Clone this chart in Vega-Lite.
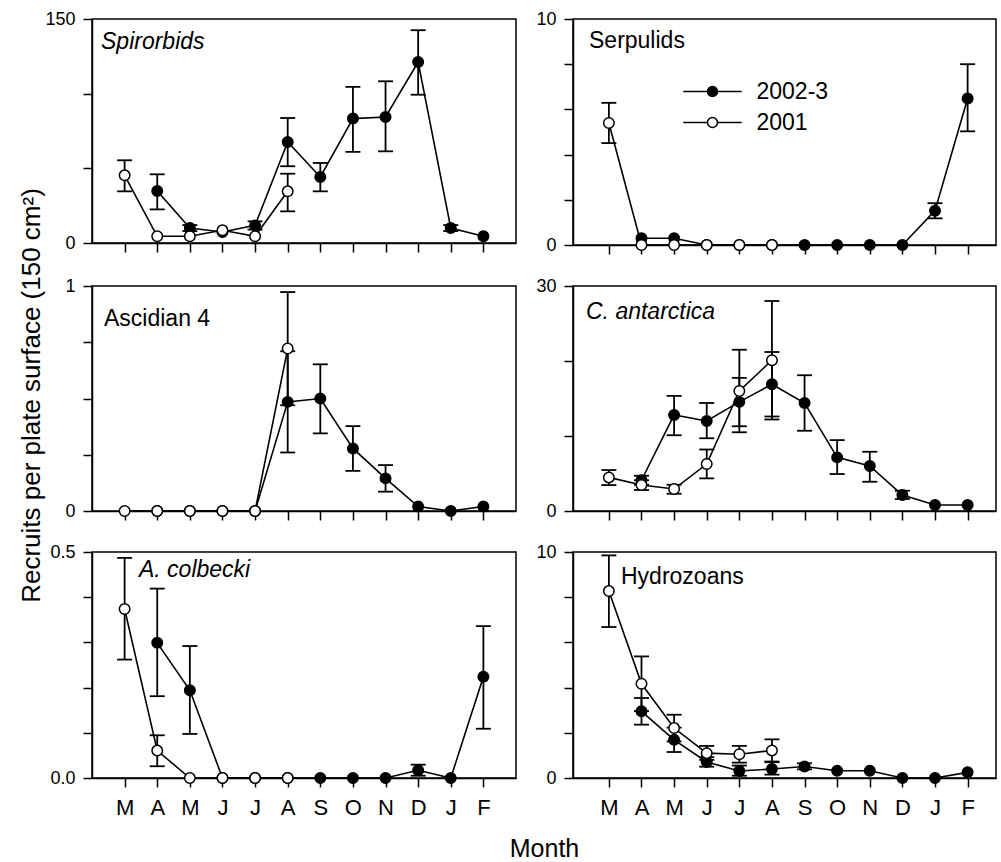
{
"$schema": "https://vega.github.io/schema/vega-lite/v6.json",
"background": "white",
"padding": {"left": 17, "top": 9, "right": 0, "bottom": 0},
"config": {
  "font": "Liberation Sans",
  "view": {"stroke": "black", "strokeWidth": 1.5},
  "axis": {"domainColor": "black", "domainWidth": 1.5, "tickColor": "black", "tickWidth": 1.5, "tickSize": 9, "labelColor": "black", "labelFont": "Liberation Sans", "labelFontSize": 18, "labelPadding": 8, "grid": false, "titleColor": "black", "titleFontWeight": "normal", "titleFont": "Liberation Sans"},
  "title": {"anchor": "start", "frame": "group", "orient": "top", "baseline": "alphabetic", "font": "Liberation Sans", "fontSize": 23, "fontWeight": "normal", "color": "black"}
},
"datasets": {
  "d": [
    {"t":"S","yr":"2002-3","m":2,"v":34.8,"lo":22.5,"hi":46},
    {"t":"S","yr":"2002-3","m":3,"v":10,"lo":8,"hi":12},
    {"t":"S","yr":"2002-3","m":4,"v":7.4},
    {"t":"S","yr":"2002-3","m":5,"v":11.8,"lo":9,"hi":14.5},
    {"t":"S","yr":"2002-3","m":6,"v":67.6,"lo":51.4,"hi":83.7},
    {"t":"S","yr":"2002-3","m":7,"v":44.2,"lo":34.6,"hi":53.6},
    {"t":"S","yr":"2002-3","m":8,"v":83.3,"lo":61,"hi":104.5},
    {"t":"S","yr":"2002-3","m":9,"v":84.4,"lo":61.4,"hi":108.3},
    {"t":"S","yr":"2002-3","m":10,"v":121.2,"lo":99.3,"hi":142.5},
    {"t":"S","yr":"2002-3","m":11,"v":10,"lo":8,"hi":12},
    {"t":"S","yr":"2002-3","m":12,"v":4.5},
    {"t":"S","yr":"2001","m":1,"v":45.3,"lo":34.6,"hi":55.4},
    {"t":"S","yr":"2001","m":2,"v":4.5},
    {"t":"S","yr":"2001","m":3,"v":4.5},
    {"t":"S","yr":"2001","m":4,"v":8.5},
    {"t":"S","yr":"2001","m":5,"v":4.5},
    {"t":"S","yr":"2001","m":6,"v":34.6,"lo":21.2,"hi":46.4},

    {"t":"P","yr":"2002-3","m":2,"v":0.3},
    {"t":"P","yr":"2002-3","m":3,"v":0.3},
    {"t":"P","yr":"2002-3","m":4,"v":0},
    {"t":"P","yr":"2002-3","m":5,"v":0},
    {"t":"P","yr":"2002-3","m":6,"v":0},
    {"t":"P","yr":"2002-3","m":7,"v":0},
    {"t":"P","yr":"2002-3","m":8,"v":0},
    {"t":"P","yr":"2002-3","m":9,"v":0},
    {"t":"P","yr":"2002-3","m":10,"v":0},
    {"t":"P","yr":"2002-3","m":11,"v":1.52,"lo":1.18,"hi":1.85},
    {"t":"P","yr":"2002-3","m":12,"v":6.48,"lo":5.03,"hi":8.0},
    {"t":"P","yr":"2001","m":1,"v":5.4,"lo":4.51,"hi":6.29},
    {"t":"P","yr":"2001","m":2,"v":0},
    {"t":"P","yr":"2001","m":3,"v":0},
    {"t":"P","yr":"2001","m":4,"v":0},
    {"t":"P","yr":"2001","m":5,"v":0},
    {"t":"P","yr":"2001","m":6,"v":0},

    {"t":"A","yr":"2002-3","m":2,"v":0},
    {"t":"A","yr":"2002-3","m":3,"v":0},
    {"t":"A","yr":"2002-3","m":4,"v":0},
    {"t":"A","yr":"2002-3","m":5,"v":0},
    {"t":"A","yr":"2002-3","m":6,"v":0.485,"lo":0.26,"hi":0.71},
    {"t":"A","yr":"2002-3","m":7,"v":0.5,"lo":0.345,"hi":0.652},
    {"t":"A","yr":"2002-3","m":8,"v":0.278,"lo":0.178,"hi":0.377},
    {"t":"A","yr":"2002-3","m":9,"v":0.145,"lo":0.086,"hi":0.204},
    {"t":"A","yr":"2002-3","m":10,"v":0.02},
    {"t":"A","yr":"2002-3","m":11,"v":0},
    {"t":"A","yr":"2002-3","m":12,"v":0.02},
    {"t":"A","yr":"2001","m":1,"v":0},
    {"t":"A","yr":"2001","m":2,"v":0},
    {"t":"A","yr":"2001","m":3,"v":0},
    {"t":"A","yr":"2001","m":4,"v":0},
    {"t":"A","yr":"2001","m":5,"v":0},
    {"t":"A","yr":"2001","m":6,"v":0.722,"lo":0.47,"hi":0.973},

    {"t":"C","yr":"2002-3","m":2,"v":4.1,"lo":3.5,"hi":4.7},
    {"t":"C","yr":"2002-3","m":3,"v":12.8,"lo":10.1,"hi":15.35},
    {"t":"C","yr":"2002-3","m":4,"v":12.0,"lo":9.7,"hi":14.4},
    {"t":"C","yr":"2002-3","m":5,"v":14.55,"lo":11.3,"hi":17.75},
    {"t":"C","yr":"2002-3","m":6,"v":16.9,"lo":12.6,"hi":21.2},
    {"t":"C","yr":"2002-3","m":7,"v":14.4,"lo":10.7,"hi":18.1},
    {"t":"C","yr":"2002-3","m":8,"v":7.15,"lo":4.93,"hi":9.45},
    {"t":"C","yr":"2002-3","m":9,"v":6.0,"lo":3.9,"hi":7.9},
    {"t":"C","yr":"2002-3","m":10,"v":2.13,"lo":1.6,"hi":2.7},
    {"t":"C","yr":"2002-3","m":11,"v":0.8},
    {"t":"C","yr":"2002-3","m":12,"v":0.8},
    {"t":"C","yr":"2001","m":1,"v":4.48,"lo":3.46,"hi":5.46},
    {"t":"C","yr":"2001","m":2,"v":3.46,"lo":2.8,"hi":4.1},
    {"t":"C","yr":"2001","m":3,"v":2.93,"lo":2.3,"hi":3.5},
    {"t":"C","yr":"2001","m":4,"v":6.26,"lo":4.35,"hi":8.2},
    {"t":"C","yr":"2001","m":5,"v":16.0,"lo":10.5,"hi":21.5},
    {"t":"C","yr":"2001","m":6,"v":20.1,"lo":12.2,"hi":28.0},

    {"t":"K","yr":"2002-3","m":2,"v":0.299,"lo":0.181,"hi":0.419},
    {"t":"K","yr":"2002-3","m":3,"v":0.194,"lo":0.0975,"hi":0.292},
    {"t":"K","yr":"2002-3","m":4,"v":0},
    {"t":"K","yr":"2002-3","m":5,"v":0},
    {"t":"K","yr":"2002-3","m":6,"v":0},
    {"t":"K","yr":"2002-3","m":7,"v":0},
    {"t":"K","yr":"2002-3","m":8,"v":0},
    {"t":"K","yr":"2002-3","m":9,"v":0},
    {"t":"K","yr":"2002-3","m":10,"v":0.017,"lo":0.005,"hi":0.0295},
    {"t":"K","yr":"2002-3","m":11,"v":0},
    {"t":"K","yr":"2002-3","m":12,"v":0.224,"lo":0.109,"hi":0.336},
    {"t":"K","yr":"2001","m":1,"v":0.374,"lo":0.262,"hi":0.487},
    {"t":"K","yr":"2001","m":2,"v":0.0606,"lo":0.026,"hi":0.0945},
    {"t":"K","yr":"2001","m":3,"v":0},
    {"t":"K","yr":"2001","m":4,"v":0},
    {"t":"K","yr":"2001","m":5,"v":0},
    {"t":"K","yr":"2001","m":6,"v":0},

    {"t":"H","yr":"2002-3","m":2,"v":2.95,"lo":2.36,"hi":3.54},
    {"t":"H","yr":"2002-3","m":3,"v":1.69,"lo":1.15,"hi":2.23},
    {"t":"H","yr":"2002-3","m":4,"v":0.71,"lo":0.5,"hi":0.92},
    {"t":"H","yr":"2002-3","m":5,"v":0.31,"lo":0.1,"hi":0.55},
    {"t":"H","yr":"2002-3","m":6,"v":0.4,"lo":0.15,"hi":0.7},
    {"t":"H","yr":"2002-3","m":7,"v":0.51,"lo":0.38,"hi":0.65},
    {"t":"H","yr":"2002-3","m":8,"v":0.32},
    {"t":"H","yr":"2002-3","m":9,"v":0.32},
    {"t":"H","yr":"2002-3","m":10,"v":0},
    {"t":"H","yr":"2002-3","m":11,"v":0},
    {"t":"H","yr":"2002-3","m":12,"v":0.25},
    {"t":"H","yr":"2001","m":1,"v":8.27,"lo":6.68,"hi":9.85},
    {"t":"H","yr":"2001","m":2,"v":4.17,"lo":2.96,"hi":5.38},
    {"t":"H","yr":"2001","m":3,"v":2.21,"lo":1.62,"hi":2.8},
    {"t":"H","yr":"2001","m":4,"v":1.1,"lo":0.8,"hi":1.42},
    {"t":"H","yr":"2001","m":5,"v":1.05,"lo":0.68,"hi":1.42},
    {"t":"H","yr":"2001","m":6,"v":1.22,"lo":0.73,"hi":1.71}
  ]
},
"data": {"name": "d"},
"columns": 2,
"bounds": "flush",
"spacing": {"row": 41, "column": 57},
"resolve": {"scale": {"fill": "independent"}, "legend": {"fill": "independent"}},
"concat": [
  {
    "width": 424, "height": 224,
    "title": {"text": "Spirorbids", "fontStyle": "italic", "offset": -44, "dx": 9},
    "transform": [{"filter": "datum.t == 'S'"}],
    "encoding": {"x": {"field": "m", "type": "quantitative", "scale": {"domain": [0, 13], "nice": false, "zero": false}, "axis": {"values": [1,2,3,4,5,6,7,8,9,10,11,12], "labels": false, "title": null}}},
    "layer": [
      {"mark": {"type": "line", "color": "black", "strokeWidth": 1.6}, "encoding": {"y": {"field": "v", "type": "quantitative", "scale": {"domain": [0, 150], "nice": false}, "axis": {"values": [0, 50, 100, 150], "labelExpr": "datum.value == 0 || datum.value == 150 ? datum.label : ''", "title": null}}, "detail": {"field": "yr"}}},
      {"transform": [{"filter": "isValid(datum.lo)"}], "mark": {"type": "rule", "color": "black", "strokeWidth": 1.8}, "encoding": {"y": {"field": "lo", "type": "quantitative", "title": null}, "y2": {"field": "hi"}}},
      {"transform": [{"filter": "isValid(datum.lo)"}], "mark": {"type": "tick", "orient": "horizontal", "color": "black", "size": 15, "thickness": 1.8, "opacity": 1}, "encoding": {"y": {"field": "lo", "type": "quantitative", "title": null}}},
      {"transform": [{"filter": "isValid(datum.hi)"}], "mark": {"type": "tick", "orient": "horizontal", "color": "black", "size": 15, "thickness": 1.8, "opacity": 1}, "encoding": {"y": {"field": "hi", "type": "quantitative", "title": null}}},
      {"mark": {"type": "circle", "size": 110, "stroke": "black", "strokeWidth": 1.5, "opacity": 1}, "encoding": {"y": {"field": "v", "type": "quantitative", "title": null}, "fill": {"field": "yr", "type": "nominal", "scale": {"domain": ["2002-3", "2001"], "range": ["black", "white"]}, "legend": null}}}
    ]
  },
  {
    "width": 423, "height": 226,
    "title": {"text": "Serpulids", "offset": -43, "dx": 16},
    "transform": [{"filter": "datum.t == 'P'"}],
    "encoding": {"x": {"field": "m", "type": "quantitative", "scale": {"domain": [-0.1, 12.87], "nice": false, "zero": false}, "axis": {"values": [1,2,3,4,5,6,7,8,9,10,11,12], "labels": false, "title": null}}},
    "layer": [
      {"mark": {"type": "line", "color": "black", "strokeWidth": 1.6}, "encoding": {"y": {"field": "v", "type": "quantitative", "scale": {"domain": [0, 10], "nice": false}, "axis": {"values": [0, 2, 4, 6, 8, 10], "labelExpr": "datum.value == 0 || datum.value == 10 ? datum.label : ''", "title": null}}, "detail": {"field": "yr"}}},
      {"transform": [{"filter": "isValid(datum.lo)"}], "mark": {"type": "rule", "color": "black", "strokeWidth": 1.8}, "encoding": {"y": {"field": "lo", "type": "quantitative", "title": null}, "y2": {"field": "hi"}}},
      {"transform": [{"filter": "isValid(datum.lo)"}], "mark": {"type": "tick", "orient": "horizontal", "color": "black", "size": 15, "thickness": 1.8, "opacity": 1}, "encoding": {"y": {"field": "lo", "type": "quantitative", "title": null}}},
      {"transform": [{"filter": "isValid(datum.hi)"}], "mark": {"type": "tick", "orient": "horizontal", "color": "black", "size": 15, "thickness": 1.8, "opacity": 1}, "encoding": {"y": {"field": "hi", "type": "quantitative", "title": null}}},
      {"mark": {"type": "circle", "size": 110, "stroke": "black", "strokeWidth": 1.5, "opacity": 1}, "encoding": {"y": {"field": "v", "type": "quantitative", "title": null}, "fill": {"field": "yr", "type": "nominal", "scale": {"domain": ["2002-3", "2001"], "range": ["black", "white"]}, "legend": {"orient": "none", "legendX": 128, "legendY": 61, "title": null, "padding": 0, "symbolType": "M-5.84,0H-1M1,0H5.84M1,0A1,1,0,1,1,-1,0A1,1,0,1,1,1,0Z", "symbolSize": 100, "symbolStrokeColor": "black", "symbolStrokeWidth": 1.5, "symbolOpacity": 1, "labelFont": "Liberation Sans", "labelFontSize": 23, "labelColor": "black", "labelOffset": 32.5, "rowPadding": 7}}}}
    ]
  },
  {
    "width": 424, "height": 225,
    "title": {"text": "Ascidian 4", "offset": -143, "dx": 12},
    "transform": [{"filter": "datum.t == 'A'"}],
    "encoding": {"x": {"field": "m", "type": "quantitative", "scale": {"domain": [0, 13], "nice": false, "zero": false}, "axis": {"values": [1,2,3,4,5,6,7,8,9,10,11,12], "labels": false, "title": null}}},
    "layer": [
      {"mark": {"type": "line", "color": "black", "strokeWidth": 1.6}, "encoding": {"y": {"field": "v", "type": "quantitative", "title": "Recruits per plate surface (150 cm²)", "scale": {"domain": [0, 1], "nice": false}, "axis": {"values": [0, 0.25, 0.5, 0.75, 1], "labelExpr": "datum.value == 0 ? '0' : datum.value == 1 ? '1' : ''", "title": "Recruits per plate surface (150 cm²)", "titleFontSize": 26, "titleAngle": 270, "titleBaseline": "alphabetic", "titleAlign": "center", "titleX": -53, "titleY": 109}}, "detail": {"field": "yr"}}},
      {"transform": [{"filter": "isValid(datum.lo)"}], "mark": {"type": "rule", "color": "black", "strokeWidth": 1.8}, "encoding": {"y": {"field": "lo", "type": "quantitative", "title": "Recruits per plate surface (150 cm²)"}, "y2": {"field": "hi"}}},
      {"transform": [{"filter": "isValid(datum.lo)"}], "mark": {"type": "tick", "orient": "horizontal", "color": "black", "size": 15, "thickness": 1.8, "opacity": 1}, "encoding": {"y": {"field": "lo", "type": "quantitative", "title": "Recruits per plate surface (150 cm²)"}}},
      {"transform": [{"filter": "isValid(datum.hi)"}], "mark": {"type": "tick", "orient": "horizontal", "color": "black", "size": 15, "thickness": 1.8, "opacity": 1}, "encoding": {"y": {"field": "hi", "type": "quantitative", "title": "Recruits per plate surface (150 cm²)"}}},
      {"mark": {"type": "circle", "size": 110, "stroke": "black", "strokeWidth": 1.5, "opacity": 1}, "encoding": {"y": {"field": "v", "type": "quantitative", "title": "Recruits per plate surface (150 cm²)"}, "fill": {"field": "yr", "type": "nominal", "scale": {"domain": ["2002-3", "2001"], "range": ["black", "white"]}, "legend": null}}}
    ]
  },
  {
    "width": 423, "height": 225,
    "title": {"text": "C. antarctica", "fontStyle": "italic", "offset": -47, "dx": 13},
    "transform": [{"filter": "datum.t == 'C'"}],
    "encoding": {"x": {"field": "m", "type": "quantitative", "scale": {"domain": [-0.1, 12.87], "nice": false, "zero": false}, "axis": {"values": [1,2,3,4,5,6,7,8,9,10,11,12], "labels": false, "title": null}}},
    "layer": [
      {"mark": {"type": "line", "color": "black", "strokeWidth": 1.6}, "encoding": {"y": {"field": "v", "type": "quantitative", "scale": {"domain": [0, 30], "nice": false}, "axis": {"values": [0, 10, 20, 30], "labelExpr": "datum.value == 0 || datum.value == 30 ? datum.label : ''", "title": null}}, "detail": {"field": "yr"}}},
      {"transform": [{"filter": "isValid(datum.lo)"}], "mark": {"type": "rule", "color": "black", "strokeWidth": 1.8}, "encoding": {"y": {"field": "lo", "type": "quantitative", "title": null}, "y2": {"field": "hi"}}},
      {"transform": [{"filter": "isValid(datum.lo)"}], "mark": {"type": "tick", "orient": "horizontal", "color": "black", "size": 15, "thickness": 1.8, "opacity": 1}, "encoding": {"y": {"field": "lo", "type": "quantitative", "title": null}}},
      {"transform": [{"filter": "isValid(datum.hi)"}], "mark": {"type": "tick", "orient": "horizontal", "color": "black", "size": 15, "thickness": 1.8, "opacity": 1}, "encoding": {"y": {"field": "hi", "type": "quantitative", "title": null}}},
      {"mark": {"type": "circle", "size": 110, "stroke": "black", "strokeWidth": 1.5, "opacity": 1}, "encoding": {"y": {"field": "v", "type": "quantitative", "title": null}, "fill": {"field": "yr", "type": "nominal", "scale": {"domain": ["2002-3", "2001"], "range": ["black", "white"]}, "legend": null}}}
    ]
  },
  {
    "width": 424, "height": 226,
    "title": {"text": "A. colbecki", "fontStyle": "italic", "offset": -39, "dx": 47},
    "transform": [{"filter": "datum.t == 'K'"}],
    "encoding": {"x": {"field": "m", "type": "quantitative", "scale": {"domain": [0, 13], "nice": false, "zero": false}, "axis": {"values": [1,2,3,4,5,6,7,8,9,10,11,12], "labelExpr": "['','M','A','M','J','J','A','S','O','N','D','J','F'][datum.value]", "labelFontSize": 22, "labelPadding": 10, "title": "Month", "titleFontSize": 25, "titleBaseline": "alphabetic", "titleAlign": "center", "titleX": 452, "titleY": 78}}},
    "layer": [
      {"mark": {"type": "line", "color": "black", "strokeWidth": 1.6}, "encoding": {"y": {"field": "v", "type": "quantitative", "scale": {"domain": [0, 0.5], "nice": false}, "axis": {"values": [0, 0.1, 0.2, 0.3, 0.4, 0.5], "labelExpr": "datum.value == 0 ? '0.0' : datum.value == 0.5 ? '0.5' : ''", "title": null}}, "detail": {"field": "yr"}}},
      {"transform": [{"filter": "isValid(datum.lo)"}], "mark": {"type": "rule", "color": "black", "strokeWidth": 1.8}, "encoding": {"y": {"field": "lo", "type": "quantitative", "title": null}, "y2": {"field": "hi"}}},
      {"transform": [{"filter": "isValid(datum.lo)"}], "mark": {"type": "tick", "orient": "horizontal", "color": "black", "size": 15, "thickness": 1.8, "opacity": 1}, "encoding": {"y": {"field": "lo", "type": "quantitative", "title": null}}},
      {"transform": [{"filter": "isValid(datum.hi)"}], "mark": {"type": "tick", "orient": "horizontal", "color": "black", "size": 15, "thickness": 1.8, "opacity": 1}, "encoding": {"y": {"field": "hi", "type": "quantitative", "title": null}}},
      {"mark": {"type": "circle", "size": 110, "stroke": "black", "strokeWidth": 1.5, "opacity": 1}, "encoding": {"y": {"field": "v", "type": "quantitative", "title": null}, "fill": {"field": "yr", "type": "nominal", "scale": {"domain": ["2002-3", "2001"], "range": ["black", "white"]}, "legend": null}}}
    ]
  },
  {
    "width": 423, "height": 226,
    "title": {"text": "Hydrozoans", "offset": -46, "dx": 48},
    "transform": [{"filter": "datum.t == 'H'"}],
    "encoding": {"x": {"field": "m", "type": "quantitative", "scale": {"domain": [-0.1, 12.87], "nice": false, "zero": false}, "axis": {"values": [1,2,3,4,5,6,7,8,9,10,11,12], "labelExpr": "['','M','A','M','J','J','A','S','O','N','D','J','F'][datum.value]", "labelFontSize": 22, "labelPadding": 10, "title": null}}},
    "layer": [
      {"mark": {"type": "line", "color": "black", "strokeWidth": 1.6}, "encoding": {"y": {"field": "v", "type": "quantitative", "scale": {"domain": [0, 10], "nice": false}, "axis": {"values": [0, 2, 4, 6, 8, 10], "labelExpr": "datum.value == 0 || datum.value == 10 ? datum.label : ''", "title": null}}, "detail": {"field": "yr"}}},
      {"transform": [{"filter": "isValid(datum.lo)"}], "mark": {"type": "rule", "color": "black", "strokeWidth": 1.8}, "encoding": {"y": {"field": "lo", "type": "quantitative", "title": null}, "y2": {"field": "hi"}}},
      {"transform": [{"filter": "isValid(datum.lo)"}], "mark": {"type": "tick", "orient": "horizontal", "color": "black", "size": 15, "thickness": 1.8, "opacity": 1}, "encoding": {"y": {"field": "lo", "type": "quantitative", "title": null}}},
      {"transform": [{"filter": "isValid(datum.hi)"}], "mark": {"type": "tick", "orient": "horizontal", "color": "black", "size": 15, "thickness": 1.8, "opacity": 1}, "encoding": {"y": {"field": "hi", "type": "quantitative", "title": null}}},
      {"mark": {"type": "circle", "size": 110, "stroke": "black", "strokeWidth": 1.5, "opacity": 1}, "encoding": {"y": {"field": "v", "type": "quantitative", "title": null}, "fill": {"field": "yr", "type": "nominal", "scale": {"domain": ["2002-3", "2001"], "range": ["black", "white"]}, "legend": null}}}
    ]
  }
]
}
